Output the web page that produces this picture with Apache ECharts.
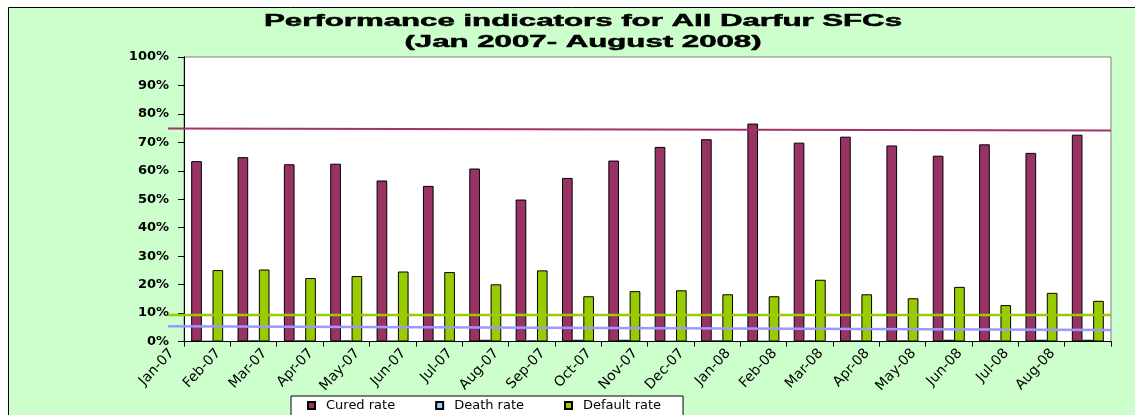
<!DOCTYPE html>
<html>
<head>
<meta charset="utf-8">
<script src="https://cdn.jsdelivr.net/npm/echarts@6/dist/echarts.min.js"></script>
<style>
  html, body { margin: 0; padding: 0; background: #fff; }
  #chart { width: 1135px; height: 415px; }
</style>
</head>
<body>
<div id="chart"></div>
<script>
  // month labels, one per bar group
  const months = ['Jan-07', 'Feb-07', 'Mar-07', 'Apr-07', 'May-07', 'Jun-07', 'Jul-07', 'Aug-07', 'Sep-07', 'Oct-07',
    'Nov-07', 'Dec-07', 'Jan-08', 'Feb-08', 'Mar-08', 'Apr-08', 'May-08', 'Jun-08', 'Jul-08', 'Aug-08']
  const curedRate = [63.4, 64.8, 62.3, 62.5, 56.6, 54.7, 60.8, 49.9, 57.5, 63.6,
    68.4, 71.1, 76.6, 69.9, 72.0, 68.9, 65.3, 69.3, 66.3, 72.7]
  const deathRate = [0.1, 0.3, 0.3, 0.3, 0.2, 0.3, 0.6, 0.3, 0.6, 0.6,
    0.1, 0.3, 0.1, 0.3, 0.3, 0.3, 0.6, 0.3, 0.6, 0.6]
  const defaultRate = [25.1, 25.3, 22.3, 23.0, 24.6, 24.4, 20.1, 25.0, 15.9, 17.7,
    18.0, 16.6, 15.9, 21.7, 16.6, 15.2, 19.2, 12.8, 17.1, 14.3]
  // target lines: value at the left end and at the right end
  const targetCured = [74.9, 74.2]
  const targetDefault = [9.3, 9.3]
  const targetDeath = [5.4, 4.0]

  const chart = echarts.init(document.getElementById('chart'))

  // the target lines run a little past the left edge of the plot, so they get their own grid
  function targetLine (name, vals, color, width) {
    return {
      name: name,
      type: 'line',
      xAxisIndex: 2,
      yAxisIndex: 1,
      symbol: 'none',
      z: 5,
      silent: true,
      lineStyle: { color: color, width: width },
      data: [[0, vals[0]], [1, vals[1]]]
    }
  }

  const barBorder = { borderColor: '#000', borderWidth: 1 }
  const titleFont = 'bold 16px "Liberation Sans", Arial, sans-serif'

  chart.setOption({
    animation: false,
    backgroundColor: '#fff',
    graphic: [
      {
        type: 'rect', z: -10, silent: true,
        shape: { x: 8.5, y: 7.5, width: 1140, height: 420 },
        style: { fill: '#ccffcc', stroke: '#000', lineWidth: 1 }
      },
      {
        type: 'text', x: 583, y: 22, scaleX: 1.95, silent: true,
        style: { text: 'Performance indicators for All Darfur SFCs', x: 0, y: 0, textAlign: 'center', textVerticalAlign: 'middle',
          font: titleFont, fill: '#000', stroke: '#000', lineWidth: 0.5 }
      },
      {
        type: 'text', x: 583, y: 43, scaleX: 1.95, silent: true,
        style: { text: '(Jan 2007- August 2008)', x: 0, y: 0, textAlign: 'center', textVerticalAlign: 'middle',
          font: titleFont, fill: '#000', stroke: '#000', lineWidth: 0.5 }
      }
    ],
    legend: {
      left: 291,
      top: 396,
      padding: [3, 22, 10, 16],
      itemWidth: 7,
      itemHeight: 7,
      itemGap: 40,
      icon: 'rect',
      backgroundColor: '#fff',
      borderColor: '#000',
      borderWidth: 1,
      borderRadius: 0,
      data: ['Cured rate', 'Death rate', 'Default rate'],
      formatter: function (name) { return '{g| }' + name },
      textStyle: {
        fontFamily: 'DejaVu Sans', fontSize: 13, color: '#000',
        rich: { g: { width: 6 } }
      }
    },
    grid: [
      {
        left: 184,
        right: 24,
        top: 57,
        bottom: 73.5,
        show: true,
        backgroundColor: '#fff',
        borderColor: '#808080',
        borderWidth: 1
      },
      {
        left: 168,
        right: 24,
        top: 57,
        bottom: 73.5
      },
      {
        // same band width as the plot, shifted so the month labels end just left of each group
        left: 172,
        right: 36,
        top: 57,
        bottom: 64
      }
    ],
    xAxis: [
      {
        type: 'category',
        data: months,
        axisLine: { lineStyle: { color: '#000', width: 1 } },
        axisTick: { show: true, interval: 0, length: 5, lineStyle: { color: '#000' } },
        axisLabel: { show: false }
      },
      {
        type: 'category',
        gridIndex: 2,
        position: 'bottom',
        boundaryGap: false,
        data: months.concat(['']),
        axisLine: { show: false },
        axisTick: { show: false },
        axisLabel: {
          interval: 0,
          rotate: 47,
          margin: 0,
          fontFamily: 'DejaVu Sans',
          fontSize: 14,
          color: '#000'
        }
      },
      {
        type: 'value',
        gridIndex: 1,
        min: 0,
        max: 1,
        show: false
      }
    ],
    yAxis: [
      {
        type: 'value',
        min: 0,
        max: 100,
        interval: 10,
        splitLine: { show: false },
        axisLine: { show: true, lineStyle: { color: '#000' } },
        axisTick: { show: true, length: 6, lineStyle: { color: '#000' } },
        axisLabel: {
          formatter: '{value}%',
          margin: 15,
          fontFamily: 'DejaVu Sans',
          fontWeight: 'bold',
          fontSize: 13,
          color: '#000'
        }
      },
      {
        type: 'value',
        gridIndex: 1,
        min: 0,
        max: 100,
        show: false
      },
      {
        type: 'value',
        gridIndex: 2,
        show: false
      }
    ],
    series: [
      {
        name: 'Cured rate', type: 'bar', barGap: '0%', barCategoryGap: '31%',
        itemStyle: Object.assign({ color: '#993366' }, barBorder),
        data: curedRate
      },
      {
        name: 'Death rate', type: 'bar', barGap: '0%', barCategoryGap: '31%',
        itemStyle: Object.assign({ color: '#99ccff' }, barBorder),
        data: deathRate
      },
      {
        name: 'Default rate', type: 'bar', barGap: '0%', barCategoryGap: '31%',
        itemStyle: Object.assign({ color: '#99cc00' }, barBorder),
        data: defaultRate
      },
      targetLine('Cured target', targetCured, '#a3336b', 2),
      targetLine('Default target', targetDefault, '#99cc00', 2.5),
      targetLine('Death target', targetDeath, '#9999ff', 2.5)
    ]
  })
</script>
</body>
</html>
